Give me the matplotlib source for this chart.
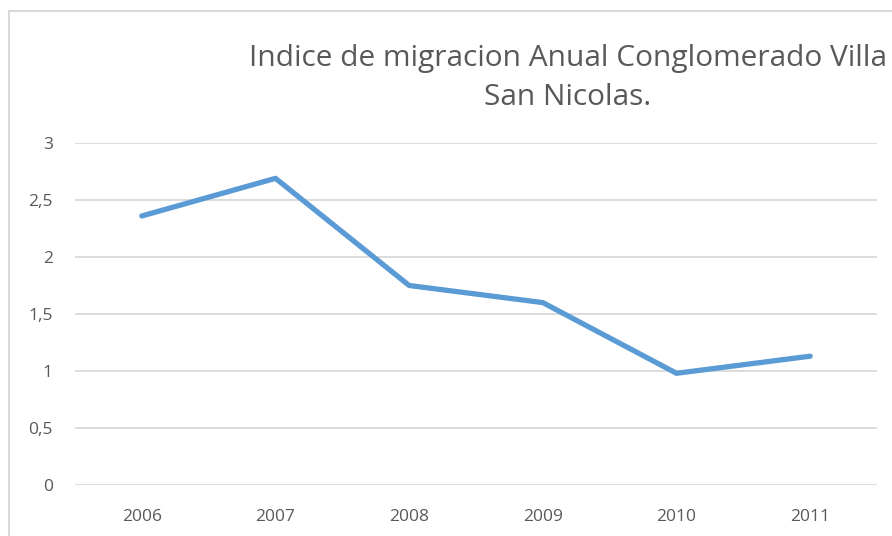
import matplotlib.pyplot as plt
from matplotlib.patches import Rectangle
from matplotlib.ticker import FuncFormatter

# Data
years = ['2006', '2007', '2008', '2009', '2010', '2011']
indice = [2.36, 2.69, 1.75, 1.60, 0.98, 1.13]
yticks = [0, 0.5, 1, 1.5, 2, 2.5, 3]

title = 'Indice de migracion Anual Conglomerado Villa\nSan Nicolas.'

line_color = '#5B9BD5'
text_color = '#595959'
grid_color = '#D9D9D9'

plt.rcParams['font.family'] = ['Open Sans', 'DejaVu Sans']

W, H = 892, 536
fig = plt.figure(figsize=(W / 100, H / 100), dpi=100)

# chart-area border (cropped on the right and bottom)
fig.patches.append(Rectangle((9 / W, -0.1), 1.2, 1 - 11 / H + 0.1,
                             transform=fig.transFigure, fill=False,
                             edgecolor=grid_color, linewidth=1.5))

ax = fig.add_axes([75 / W, 1 - 485 / H, (877 - 75) / W, (485 - 143) / H])
x = range(len(years))
ax.plot(x, indice, color=line_color, linewidth=3.8, solid_capstyle='round',
        solid_joinstyle='round')

ax.set_xlim(-0.5, len(years) - 0.5)
ax.set_ylim(0, 3)
ax.set_xticks(list(x))
ax.set_xticklabels(years)
ax.set_yticks(yticks)
ax.yaxis.set_major_formatter(FuncFormatter(lambda v, p: f'{v:g}'.replace('.', ',')))
ax.tick_params(length=0, labelsize=12.5, labelcolor=text_color)
ax.tick_params(axis='y', pad=16)
ax.tick_params(axis='x', pad=17)
ax.grid(axis='y', color=grid_color, linewidth=1.3)
ax.set_axisbelow(True)
for s in ax.spines.values():
    s.set_visible(False)

fig.text(568 / W, 1 - 78 / H, title, ha='center', va='center',
         fontsize=21.5, color=text_color, linespacing=1.45)

fig.savefig('out.png', dpi=100)
